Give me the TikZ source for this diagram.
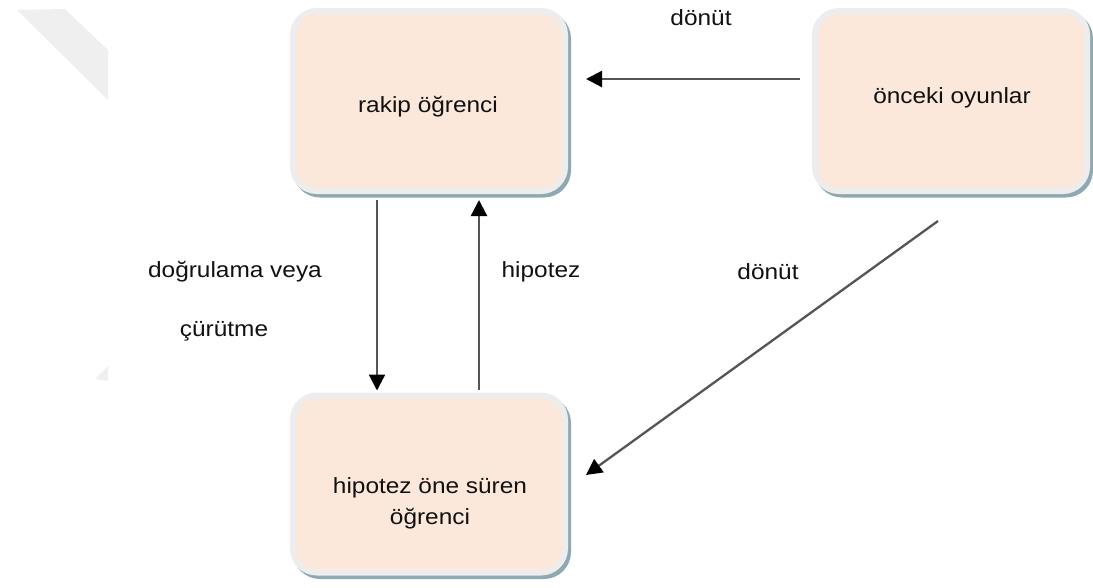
\documentclass[tikz,border=0pt]{standalone}
\usepackage{fontspec}
\setmainfont{Liberation Sans}[FakeStretch=1.11]
\usetikzlibrary{arrows.meta,shadows,calc}

\definecolor{peach}{HTML}{FCE8DA}
\definecolor{ring}{HTML}{EDEDED}
\definecolor{shade}{HTML}{8FA9B1}
\definecolor{wline}{HTML}{555555}
\definecolor{cornergray}{HTML}{EFEFEF}
\definecolor{ink}{HTML}{111111}

\tikzset{
  stepbox/.style={rectangle, rounded corners=24pt, fill=peach, draw=ring,
    line width=6pt, minimum width=272pt, minimum height=180pt, inner sep=0pt,
    drop shadow={shadow xshift=3pt, shadow yshift=-3.5pt, fill=shade,
      draw=shade, line width=6pt, opacity=1}},
  boxtext/.style={text=ink, font=\fontsize{22}{31}\selectfont, align=center, inner sep=0pt},
  lbl/.style={text=ink, font=\fontsize{22}{26}\selectfont, inner sep=0pt},
  arr/.style={draw=wline, line width=2.3pt,
    -{Triangle[length=16pt, width=16pt, fill=black, color=black]}}
}

\begin{document}
\begin{tikzpicture}[x=1pt, y=-1pt]
  \useasboundingbox (0,0) rectangle (1093,587);

  % faint corner marks
  \fill[cornergray] (17,10) -- (65,9) -- (108,50) -- (108,100) -- cycle;
  \fill[cornergray] (95,379) -- (108,366) -- (108,381) -- cycle;

  % boxes
  \node[stepbox] (rk) at (429,101) {};
  \node[stepbox] (oy) at (951,101) {};
  \node[stepbox, minimum height=177pt] (hp) at (429,484) {};

  \node[boxtext] (rkt) at (428,107) {rakip öğrenci};
  \node[boxtext] (oyt) at (952,98) {önceki oyunlar};
  \node[boxtext] (hpt) at (430,503) {hipotez öne süren\\öğrenci};

  % connectors
  \draw[arr] ($(oy.west)+(-12,-22)$) -- ($(rk.east)+(18,-22)$);
  \draw[arr] ($(rk.south)+(-52,6)$) -- ($(hp.north)+(-52,-2)$);
  \draw[arr] ($(hp.north)+(50,-3)$) -- ($(rk.south)+(50,6)$);
  \draw[arr] ($(oy.south)+(-13,27)$) -- ($(hp.east)+(18,-9)$);

  % connector labels
  \node[lbl] (l1) at (701,18) {dönüt};
  \node[lbl] (l2) at (768,272) {dönüt};
  \node[lbl] (l3) at (541,272) {hipotez};
  \node[lbl] (l4) at (235,272) {doğrulama veya};
  \node[lbl] (l5) at (224,331) {çürütme};
\end{tikzpicture}
\end{document}
